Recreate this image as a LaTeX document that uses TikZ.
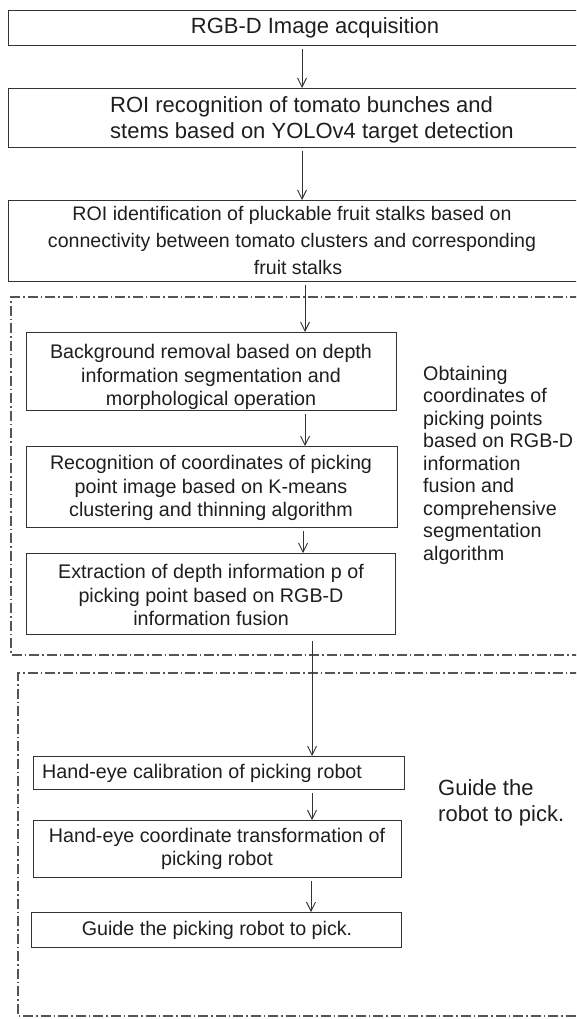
\documentclass[tikz,border=0pt]{standalone}
\usepackage{fontspec}
\setmainfont{Liberation Sans}
\usetikzlibrary{arrows.meta}
\definecolor{ink}{HTML}{1E1E1E}
\definecolor{edge}{HTML}{333333}
\definecolor{framegray}{HTML}{555555}
\begin{document}
\begin{tikzpicture}[x=1pt,y=-1pt,
  box/.style={draw=edge, line width=1.1pt, anchor=north west, inner sep=0pt},
  txt/.style={text=ink, align=center, inner sep=0pt, font=\fontsize{19.7}{23.5}\selectfont},
  big/.style={font=\fontsize{22}{26}\selectfont},
  flow/.style={draw=edge, line width=0.9pt, shorten <=3pt,
    -{Straight Barb[length=9pt,width=9pt,line width=0.9pt]}},
  frame/.style={draw=framegray, line width=1.1pt,
    dash pattern=on 10pt off 3pt on 1.5pt off 3pt},
]
\useasboundingbox (0,0) rectangle (576,1019);
\clip (0,0) rectangle (576,1019);

% columns of the connectors
\coordinate (c1) at (302,0);
\coordinate (c2) at (305,0);
\coordinate (c3) at (303,0);
\coordinate (c4) at (312,0);
\coordinate (c5) at (311,0);

% upper wide steps
\node[box, minimum width=594pt, minimum height=35pt] (b1) at (8,10) {};
\node[txt, big] at (315,27.5) {RGB-D Image acquisition};

\node[box, minimum width=594pt, minimum height=59pt] (b2) at (8,88) {};
\node[txt, big, align=left, anchor=west] at (110,120)
  {ROI recognition of tomato bunches and\\stems based on YOLOv4 target detection};

\node[box, minimum width=594pt, minimum height=81pt] (b3) at (8,200) {};
\node[txt, font=\fontsize{19.6}{27}\selectfont] at (292,240)
  {ROI identification of pluckable fruit stalks based on\\
   connectivity between tomato clusters and corresponding\\
   \hspace*{12pt}fruit stalks};

% picking point group
\path[frame] (580,297) -- (11,297) -- (11,655) -- (580,655);

\node[box, minimum width=370pt, minimum height=78pt] (b4) at (26,332) {};
\node[txt] at (211,377)
  {Background removal based on depth\\information segmentation and\\morphological operation};

\node[box, minimum width=371pt, minimum height=81pt] (b5) at (26,446) {};
\node[txt] at (211,488)
  {Recognition of coordinates of picking\\point image based on K-means\\clustering and thinning algorithm};

\node[box, minimum width=369pt, minimum height=81pt] (b6) at (26,553) {};
\node[txt] at (211,595)
  {Extraction of depth information p of\\picking point based on RGB-D\\information fusion};

\node[txt, align=left, anchor=west, font=\fontsize{19.7}{22.5}\selectfont] at (423,465)
  {Obtaining\\coordinates of\\picking points\\based on RGB-D\\information\\fusion and\\comprehensive\\segmentation\\algorithm};

% robot group
\path[frame] (580,673) -- (18,673) -- (18,1016) -- (580,1016);

\node[box, minimum width=371pt, minimum height=33pt] (b7) at (33,756) {};
\node[txt, anchor=west] at (42,773) {Hand-eye calibration of picking robot};

\node[box, minimum width=368pt, minimum height=57pt] (b8) at (33,820) {};
\node[txt] at (217,849) {Hand-eye coordinate transformation of\\picking robot};

\node[box, minimum width=370pt, minimum height=35pt] (b9) at (31,912) {};
\node[txt] at (217,930) {Guide the picking robot to pick.};

\node[txt, big, align=left, anchor=west] at (438,803) {Guide the\\robot to pick.};

% connectors
\draw[flow] (b1.south -| c1) -- (b2.north -| c1);
\draw[flow] (b2.south -| c1) -- (b3.north -| c1);
\draw[flow] (b3.south -| c2) -- (b4.north -| c2);
\draw[flow] (b4.south -| c2) -- (b5.north -| c2);
\draw[flow] (b5.south -| c3) -- (b6.north -| c3);
\draw[flow, shorten <=6pt] (b6.south -| c4) -- (b7.north -| c4);
\draw[flow] (b7.south -| c4) -- (b8.north -| c4);
\draw[flow] (b8.south -| c5) -- (b9.north -| c5);
\end{tikzpicture}
\end{document}
